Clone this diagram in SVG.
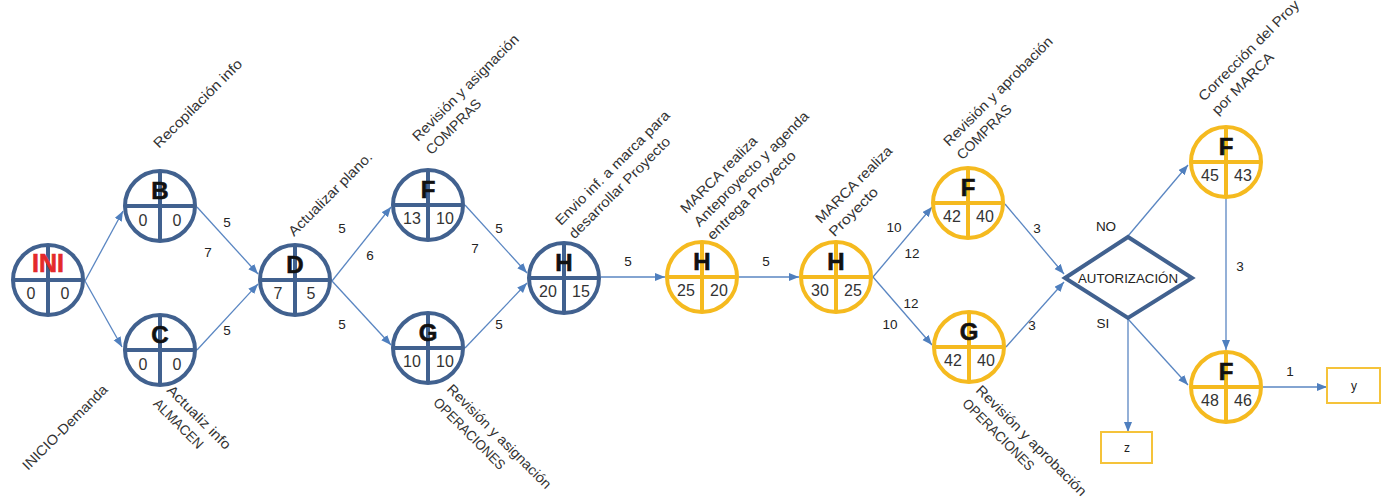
<svg xmlns="http://www.w3.org/2000/svg" width="1384" height="502" viewBox="0 0 1384 502">
  <style>
    .ring-b { fill: #ffffff; stroke: #41618F; stroke-width: 4; }
    .ring-y { fill: #ffffff; stroke: #F5BA1F; stroke-width: 4; }
    .cross-b { stroke: #41618F; stroke-width: 4; }
    .cross-y { stroke: #F5BA1F; stroke-width: 4; }
    .letter { font-family: "Liberation Sans", Arial, sans-serif; font-weight: bold; font-size: 24px; fill: #111111; text-anchor: middle; stroke: #111111; stroke-width: 0.6; }
    .ini { fill: #E42A2A; stroke: #E42A2A; font-size: 25px; }
    .num { font-family: "Liberation Sans", Arial, sans-serif; font-size: 16px; fill: #333333; text-anchor: middle; }
    .conn { fill: none; stroke: #5A86C2; stroke-width: 1.3; marker-end: url(#arrow); }
    .elabel { font-family: "Liberation Sans", Arial, sans-serif; font-size: 13.5px; fill: #222222; text-anchor: middle; }
    .note { font-family: "Liberation Sans", Arial, sans-serif; font-size: 14px; fill: #333333; }
    .box { fill: #ffffff; stroke: #F5C33A; stroke-width: 2; }
  </style>
  <defs>
    <marker id="arrow" markerUnits="userSpaceOnUse" markerWidth="11" markerHeight="9" refX="10" refY="4" orient="auto">
      <path d="M0,0 L10,4 L0,8 Z" fill="#4F7FBE"/>
    </marker>
    <!-- node templates: circle split into a title half and two number quarters -->
    <g id="node-b">
      <circle class="ring-b" cx="0" cy="0" r="35"/>
      <line class="cross-b" x1="-35" y1="0" x2="35" y2="0"/>
      <line class="cross-b" x1="0" y1="-35" x2="0" y2="35"/>
    </g>
    <g id="node-y">
      <circle class="ring-y" cx="0" cy="0" r="35"/>
      <line class="cross-y" x1="-35" y1="0" x2="35" y2="0"/>
      <line class="cross-y" x1="0" y1="-35" x2="0" y2="35"/>
    </g>
  </defs>

  <rect width="1384" height="502" fill="#ffffff"/>

  <!-- connectors -->
  <g id="connectors">
    <line class="conn" x1="85" y1="281" x2="123" y2="211"/>
    <line class="conn" x1="85" y1="281" x2="122" y2="347"/>
    <line class="conn" x1="197" y1="207" x2="258" y2="274"/>
    <line class="conn" x1="197" y1="350" x2="258" y2="284"/>
    <line class="conn" x1="332" y1="281" x2="391" y2="207"/>
    <line class="conn" x1="332" y1="281" x2="391" y2="345"/>
    <line class="conn" x1="465" y1="205" x2="527" y2="273"/>
    <line class="conn" x1="465" y1="348" x2="527" y2="283"/>
    <line class="conn" x1="601" y1="277" x2="665" y2="277"/>
    <line class="conn" x1="739" y1="277" x2="799" y2="277"/>
    <line class="conn" x1="873" y1="277" x2="932" y2="207"/>
    <line class="conn" x1="873" y1="277" x2="932" y2="345"/>
    <line class="conn" x1="1005" y1="204" x2="1064" y2="274"/>
    <line class="conn" x1="1006" y1="347" x2="1064" y2="282"/>
    <line class="conn" x1="1128" y1="236" x2="1188" y2="165"/>
    <line class="conn" x1="1128" y1="319" x2="1188" y2="385"/>
    <line class="conn" x1="1128" y1="319" x2="1128" y2="432"/>
    <line class="conn" x1="1226" y1="198" x2="1226" y2="350"/>
    <line class="conn" x1="1263" y1="387" x2="1327" y2="387"/>

    <!-- durations -->
    <text class="elabel" x="227" y="227">5</text>
    <text class="elabel" x="208" y="257">7</text>
    <text class="elabel" x="227" y="335">5</text>
    <text class="elabel" x="342" y="233">5</text>
    <text class="elabel" x="370" y="260">6</text>
    <text class="elabel" x="342" y="329">5</text>
    <text class="elabel" x="499" y="233">5</text>
    <text class="elabel" x="475" y="253">7</text>
    <text class="elabel" x="499" y="329">5</text>
    <text class="elabel" x="628" y="266">5</text>
    <text class="elabel" x="766" y="266">5</text>
    <text class="elabel" x="894" y="232">10</text>
    <text class="elabel" x="912" y="258">12</text>
    <text class="elabel" x="911" y="308">12</text>
    <text class="elabel" x="890" y="329">10</text>
    <text class="elabel" x="1037" y="233">3</text>
    <text class="elabel" x="1032" y="330">3</text>
    <text class="elabel" x="1106" y="231">NO</text>
    <text class="elabel" x="1103" y="328">SI</text>
    <text class="elabel" x="1240" y="271">3</text>
    <text class="elabel" x="1290" y="376">1</text>
  </g>

  <!-- activity nodes -->
  <g id="n-ini">
    <use href="#node-b" x="48" y="280"/>
    <text class="letter ini" x="48" y="272">INI</text>
    <text class="num" x="31" y="299">0</text>
    <text class="num" x="65" y="299">0</text>
  </g>
  <g id="n-b">
    <use href="#node-b" x="160" y="206"/>
    <text class="letter" x="160" y="199">B</text>
    <text class="num" x="143" y="226">0</text>
    <text class="num" x="177" y="226">0</text>
  </g>
  <g id="n-c">
    <use href="#node-b" x="160" y="350"/>
    <text class="letter" x="160" y="343">C</text>
    <text class="num" x="143" y="370">0</text>
    <text class="num" x="177" y="370">0</text>
  </g>
  <g id="n-d">
    <use href="#node-b" x="295" y="280"/>
    <text class="letter" x="295" y="273">D</text>
    <text class="num" x="278" y="299">7</text>
    <text class="num" x="311" y="299">5</text>
  </g>
  <g id="n-f1">
    <use href="#node-b" x="428" y="205"/>
    <text class="letter" x="428" y="198">F</text>
    <text class="num" x="412" y="224">13</text>
    <text class="num" x="445" y="224">10</text>
  </g>
  <g id="n-g1">
    <use href="#node-b" x="428" y="348"/>
    <text class="letter" x="428" y="341">G</text>
    <text class="num" x="412" y="367">10</text>
    <text class="num" x="445" y="367">10</text>
  </g>
  <g id="n-h0">
    <use href="#node-b" x="564" y="278"/>
    <text class="letter" x="564" y="271">H</text>
    <text class="num" x="548" y="297">20</text>
    <text class="num" x="581" y="297">15</text>
  </g>
  <g id="n-h1">
    <use href="#node-y" x="702" y="277"/>
    <text class="letter" x="702" y="270">H</text>
    <text class="num" x="686" y="296">25</text>
    <text class="num" x="719" y="296">20</text>
  </g>
  <g id="n-h2">
    <use href="#node-y" x="836" y="277"/>
    <text class="letter" x="836" y="270">H</text>
    <text class="num" x="820" y="296">30</text>
    <text class="num" x="853" y="296">25</text>
  </g>
  <g id="n-f2">
    <use href="#node-y" x="968" y="203"/>
    <text class="letter" x="968" y="196">F</text>
    <text class="num" x="952" y="222">42</text>
    <text class="num" x="985" y="222">40</text>
  </g>
  <g id="n-g2">
    <use href="#node-y" x="969" y="347"/>
    <text class="letter" x="969" y="340">G</text>
    <text class="num" x="953" y="366">42</text>
    <text class="num" x="986" y="366">40</text>
  </g>
  <g id="n-f3">
    <use href="#node-y" x="1226" y="162"/>
    <text class="letter" x="1226" y="155">F</text>
    <text class="num" x="1210" y="181">45</text>
    <text class="num" x="1243" y="181">43</text>
  </g>
  <g id="n-f4">
    <use href="#node-y" x="1226" y="387"/>
    <text class="letter" x="1226" y="380">F</text>
    <text class="num" x="1210" y="406">48</text>
    <text class="num" x="1243" y="406">46</text>
  </g>

  <!-- decision -->
  <g id="n-autorizacion">
    <polygon points="1065,278 1128,237 1192,278 1128,318" fill="#ffffff" stroke="#41618F" stroke-width="4" stroke-linejoin="miter"/>
    <text x="1128" y="283" font-family="Liberation Sans, Arial, sans-serif" font-size="13" fill="#222222" text-anchor="middle" textLength="100" lengthAdjust="spacingAndGlyphs">AUTORIZACIÓN</text>
  </g>

  <!-- end boxes -->
  <g id="n-z">
    <rect class="box" x="1101" y="432" width="51" height="31"/>
    <text x="1127" y="452" font-family="Liberation Sans, Arial, sans-serif" font-size="12" fill="#222222" text-anchor="middle">z</text>
  </g>
  <g id="n-y">
    <rect class="box" x="1327" y="368" width="53" height="35"/>
    <text x="1354" y="390" font-family="Liberation Sans, Arial, sans-serif" font-size="12" fill="#222222" text-anchor="middle">y</text>
  </g>

  <!-- activity descriptions (diagonal) -->
  <g id="notes">
    <text class="note" transform="translate(159,149) rotate(-45)"><tspan x="0" y="0" textLength="119" lengthAdjust="spacingAndGlyphs">Recopilación info</tspan></text>
    <text class="note" transform="translate(28,471) rotate(-45)"><tspan x="0" y="0" textLength="114" lengthAdjust="spacingAndGlyphs">INICIO-Demanda</tspan></text>
    <text class="note" transform="translate(166,391) rotate(45)"><tspan x="0" y="0" textLength="84" lengthAdjust="spacingAndGlyphs">Actualiz info</tspan><tspan x="0" y="19" textLength="64" lengthAdjust="spacingAndGlyphs">ALMACEN</tspan></text>
    <text class="note" transform="translate(294,237) rotate(-45)"><tspan x="0" y="0" textLength="112" lengthAdjust="spacingAndGlyphs">Actualizar plano.</tspan></text>
    <text class="note" transform="translate(418,142) rotate(-45)"><tspan x="0" y="0" textLength="144" lengthAdjust="spacingAndGlyphs">Revisión y asignación</tspan><tspan x="0" y="19" textLength="72" lengthAdjust="spacingAndGlyphs">COMPRAS</tspan></text>
    <text class="note" transform="translate(446,390) rotate(45)"><tspan x="0" y="0" textLength="141" lengthAdjust="spacingAndGlyphs">Revisión y asignación</tspan><tspan x="0" y="19" textLength="95" lengthAdjust="spacingAndGlyphs">OPERACIONES</tspan></text>
    <text class="note" transform="translate(561,226) rotate(-45)"><tspan x="0" y="0" textLength="155" lengthAdjust="spacingAndGlyphs">Envio inf. a marca para</tspan><tspan x="0" y="19" textLength="137" lengthAdjust="spacingAndGlyphs">desarrollar Proyecto</tspan></text>
    <text class="note" transform="translate(686,214) rotate(-45)"><tspan x="0" y="0" textLength="102" lengthAdjust="spacingAndGlyphs">MARCA realiza</tspan><tspan x="0" y="19" textLength="156" lengthAdjust="spacingAndGlyphs">Anteproyecto y agenda</tspan><tspan x="0" y="38" textLength="119" lengthAdjust="spacingAndGlyphs">entrega Proyecto</tspan></text>
    <text class="note" transform="translate(821,224) rotate(-45)"><tspan x="0" y="0" textLength="102" lengthAdjust="spacingAndGlyphs">MARCA realiza</tspan><tspan x="0" y="19" textLength="63" lengthAdjust="spacingAndGlyphs">Proyecto</tspan></text>
    <text class="note" transform="translate(949,147) rotate(-45)"><tspan x="0" y="0" textLength="148" lengthAdjust="spacingAndGlyphs">Revisión y aprobación</tspan><tspan x="0" y="19" textLength="71" lengthAdjust="spacingAndGlyphs">COMPRAS</tspan></text>
    <text class="note" transform="translate(975,391) rotate(45)"><tspan x="0" y="0" textLength="150" lengthAdjust="spacingAndGlyphs">Revisión y aprobación</tspan><tspan x="0" y="19" textLength="95" lengthAdjust="spacingAndGlyphs">OPERACIONES</tspan></text>
    <text class="note" transform="translate(1204,102) rotate(-45)"><tspan x="0" y="0" textLength="136" lengthAdjust="spacingAndGlyphs">Corrección del Proy</tspan><tspan x="0" y="19" textLength="81" lengthAdjust="spacingAndGlyphs">por MARCA</tspan></text>
  </g>
</svg>
